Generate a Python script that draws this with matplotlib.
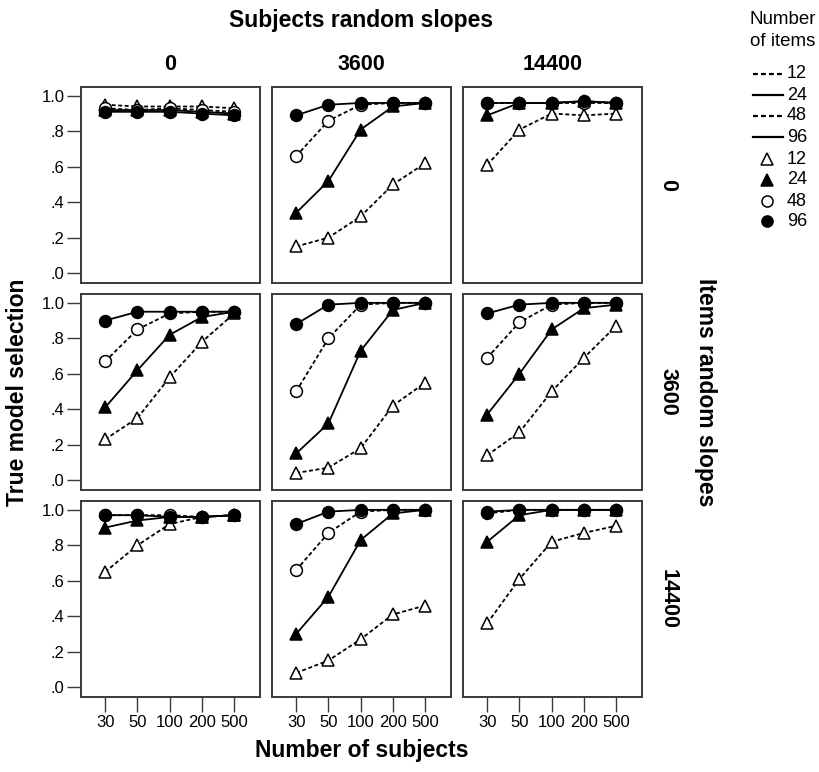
import matplotlib
matplotlib.use("Agg")
import matplotlib.pyplot as plt
from matplotlib.lines import Line2D

plt.rcParams['font.family'] = ['Liberation Sans', 'DejaVu Sans']

# ---------------- data ----------------
subject_slopes = ["0", "3600", "14400"]      # columns
item_slopes = ["0", "3600", "14400"]         # rows
n_subjects = ["30", "50", "100", "200", "500"]
n_items = ["12", "24", "48", "96"]
y_ticks = [0.0, 0.2, 0.4, 0.6, 0.8, 1.0]
y_tick_labels = [".0", ".2", ".4", ".6", ".8", "1.0"]

# selection rate [item-slope row][subject-slope column][n_subjects]
sel_n12 = [
    [[.95, .94, .94, .94, .93], [.15, .20, .32, .50, .62], [.61, .81, .90, .89, .90]],
    [[.23, .35, .58, .78, .94], [.04, .07, .18, .42, .55], [.14, .27, .50, .69, .87]],
    [[.65, .80, .92, .96, .97], [.08, .15, .27, .41, .46], [.36, .61, .82, .87, .91]],
]
sel_n24 = [
    [[.92, .92, .92, .91, .90], [.34, .52, .81, .94, .96], [.89, .96, .96, .97, .96]],
    [[.41, .62, .82, .92, .95], [.15, .32, .73, .96, 1.0], [.37, .60, .85, .97, .99]],
    [[.90, .94, .96, .96, .97], [.30, .51, .83, .98, 1.0], [.82, .97, 1.0, 1.0, 1.0]],
]
sel_n48 = [
    [[.93, .92, .93, .92, .91], [.66, .86, .95, .96, .96], [.96, .96, .96, .96, .96]],
    [[.67, .85, .94, .95, .95], [.50, .80, .99, 1.0, 1.0], [.69, .89, .99, 1.0, 1.0]],
    [[.97, .97, .97, .96, .97], [.66, .87, .99, 1.0, 1.0], [.98, 1.0, 1.0, 1.0, 1.0]],
]
sel_n96 = [
    [[.91, .91, .91, .90, .89], [.89, .95, .96, .96, .96], [.96, .96, .96, .97, .96]],
    [[.90, .95, .95, .95, .95], [.88, .99, 1.0, 1.0, 1.0], [.94, .99, 1.0, 1.0, 1.0]],
    [[.97, .97, .96, .96, .97], [.92, .99, 1.0, 1.0, 1.0], [.99, 1.0, 1.0, 1.0, 1.0]],
]

# ---------------- style ----------------
series = [
    (sel_n12, "^", "white", (0, (2.2, 1.4))),
    (sel_n24, "^", "black", "-"),
    (sel_n48, "o", "white", (0, (2.2, 1.4))),
    (sel_n96, "o", "black", "-"),
]

W, H = 820, 772
fig = plt.figure(figsize=(W / 100, H / 100), dpi=100)

col_x = [81, 272, 463]
col_w = 179
row_y = [87, 294, 501]
row_h = 196

def px_axes(x0, y0, w, h):
    return fig.add_axes([x0 / W, 1 - (y0 + h) / H, w / W, h / H])

def fx(x):
    return x / W

def fy(y):
    return 1 - y / H

xs = list(range(len(n_subjects)))
border = "#3a3a3a"

for r in range(3):
    for c in range(3):
        ax = px_axes(col_x[c], row_y[r], col_w, row_h)
        for z, (data, mk, fc, ls) in enumerate(series):
            ax.plot(xs, data[r][c], color="black", linestyle=ls, linewidth=1.3,
                    marker=mk, markersize=8.5,
                    markerfacecolor=fc, markeredgecolor="black",
                    markeredgewidth=1.1, zorder=3 + z, clip_on=False)
        ax.set_xlim(-0.75, 4.8)
        ax.set_ylim(-0.056, 1.05)
        ax.set_yticks(y_ticks)
        ax.set_xticks(xs)
        for s in ax.spines.values():
            s.set_color(border)
            s.set_linewidth(1.4)
        ax.tick_params(axis="y", direction="out", length=10, width=1.0,
                       color=border, labelsize=12, pad=2)
        ax.tick_params(axis="x", direction="out", length=11, width=1.0,
                       color=border, labelsize=12, pad=2)
        if c == 0:
            ax.set_yticklabels(y_tick_labels)
        else:
            ax.tick_params(axis="y", left=False, labelleft=False)
        if r == 2:
            ax.set_xticklabels(n_subjects)
        else:
            ax.tick_params(axis="x", bottom=False, labelbottom=False)

# column headers
grid_cx = (col_x[0] + col_x[2] + col_w) / 2
fig.text(fx(grid_cx), fy(21), "Subjects random slopes", ha="center", va="center",
         fontsize=16.5, fontweight="bold")
for c in range(3):
    fig.text(fx(col_x[c] + col_w / 2), fy(65), subject_slopes[c],
             ha="center", va="center", fontsize=15.5, fontweight="bold")
# row headers
for r in range(3):
    fig.text(fx(668), fy(row_y[r] + row_h / 2), item_slopes[r],
             ha="center", va="center", rotation=-90, fontsize=15.5, fontweight="bold")
grid_cy = (row_y[0] + row_y[2] + row_h) / 2
fig.text(fx(706), fy(grid_cy), "Items random slopes", ha="center", va="center",
         rotation=-90, fontsize=16.5, fontweight="bold")
fig.text(fx(18), fy(grid_cy), "True model selection", ha="center", va="center",
         rotation=90, fontsize=16.5, fontweight="bold")
fig.text(fx(grid_cx), fy(751), "Number of subjects", ha="center", va="center",
         fontsize=16.5, fontweight="bold")

# legend (drawn manually)
fig.text(fx(783), fy(20), "Number", ha="center", va="center", fontsize=13.5)
fig.text(fx(783), fy(42), "of items", ha="center", va="center", fontsize=13.5)
line_rows = [74, 95, 116, 137]
marker_rows = [159, 180, 201, 221]
for i, (data, mk, fc, ls) in enumerate(series):
    y = line_rows[i]
    fig.add_artist(Line2D([fx(753), fx(783)], [fy(y), fy(y)], color="black",
                          linestyle=ls, linewidth=1.6, transform=fig.transFigure))
    fig.text(fx(787), fy(y), n_items[i], ha="left", va="center", fontsize=13)
for i, (data, mk, fc, ls) in enumerate(series):
    y = marker_rows[i]
    fig.add_artist(Line2D([fx(767)], [fy(y)], color="black", linestyle="none",
                          marker=mk, markersize=8, markerfacecolor=fc,
                          markeredgecolor="black", markeredgewidth=1.1,
                          transform=fig.transFigure))
    fig.text(fx(787), fy(y), n_items[i], ha="left", va="center", fontsize=13)

fig.savefig("out.png", dpi=100)
